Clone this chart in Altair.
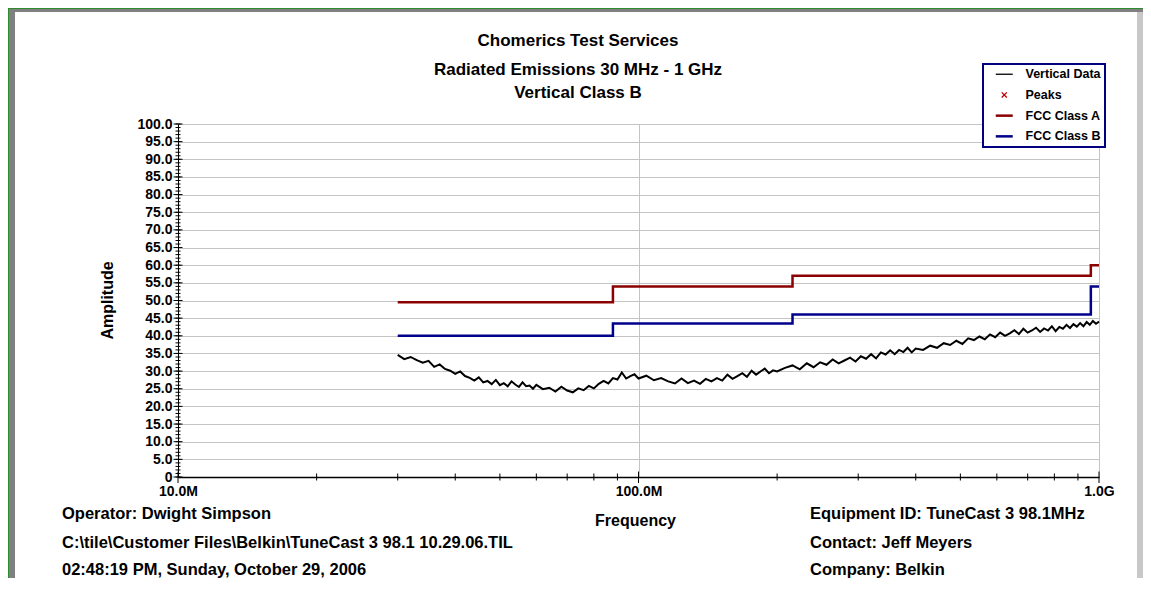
import altair as alt
import pandas as pd

# ---------------- data ----------------
FREQ_MHZ = [
    30, 31, 32, 33, 34, 35, 36, 37, 38, 39, 40, 41, 42, 43, 44, 45, 46, 47, 48, 49,
    50, 51, 52, 53, 54, 55, 56, 57, 58, 59, 60,
    62, 64, 66, 68, 70, 72, 74, 76, 78, 80, 82, 84, 86, 88, 90, 92, 94, 96, 98, 100,
    104, 108, 112, 116, 120, 124, 128, 132, 136, 140, 144, 148, 152, 156, 160, 164,
    168, 172, 176, 180, 184, 188, 192, 196, 200,
    208, 216, 224, 232, 240, 248, 256, 264, 272, 280, 288, 296, 304, 312, 320, 328,
    336, 344, 352, 360, 368, 376, 384, 392, 400,
    415, 430, 445, 460, 475, 490, 505, 520, 535, 550, 565, 580, 595, 610, 625, 640,
    655, 670, 685, 700, 715, 730, 745, 760, 775, 790, 805, 820, 835, 850, 865, 880,
    895, 910, 925, 940, 955, 970, 985, 1000,
]
VERTICAL_DATA = [
    34.6, 33.4, 34.0, 33.1, 32.4, 32.9, 31.2, 31.9, 30.6, 30.1, 29.2, 29.9, 28.6, 28.1,
    27.3, 28.2, 26.8, 27.2, 26.3, 27.5, 26.0, 26.6, 25.7, 27.1, 26.2, 25.5, 26.8, 25.7,
    25.9, 25.0, 26.1,
    24.9, 25.3, 24.2, 25.6, 24.5, 24.0, 25.1, 24.6, 25.8, 25.1, 26.4, 27.2, 26.5, 28.0,
    27.6, 29.6, 27.9, 28.6, 29.1, 27.9,
    28.7, 27.4, 28.0, 27.1, 26.5, 27.9, 26.6, 27.3, 26.4, 27.8, 27.1, 28.0, 27.3, 29.0,
    27.8, 28.6, 29.4, 28.4, 30.1, 29.0, 29.9, 30.7, 29.4, 30.2, 29.9,
    30.9, 31.6, 30.5, 32.2, 31.1, 32.5, 31.8, 33.3, 32.2, 33.0, 33.8, 32.7, 34.2, 33.5,
    34.8, 33.6, 35.3, 34.7, 35.9, 34.8, 36.0, 35.4, 36.6, 35.3, 36.4,
    36.0, 37.2, 36.6, 37.9, 37.4, 38.6, 37.7, 39.3, 38.8, 39.8, 39.0, 40.4, 39.6, 40.9,
    40.0, 40.7, 41.6, 40.5, 42.0, 40.9, 41.5, 42.3, 41.1, 42.1, 41.5, 42.7, 41.3, 42.5,
    42.0, 43.1, 42.2, 43.3, 42.6, 43.6, 42.7, 43.9, 43.1, 44.2, 43.4, 44.0,
]
CLASS_A_F = [30, 88, 216, 960, 1000]
CLASS_A_DB = [49.5, 54.0, 57.0, 60.0, 60.0]
CLASS_B_F = [30, 88, 216, 960, 1000]
CLASS_B_DB = [40.0, 43.5, 46.0, 54.0, 54.0]

SERIES = ["Vertical Data", "Peaks", "FCC Class A", "FCC Class B"]
SERIES_COLORS = ["#000000", "#c00000", "#8b0000", "#00008b"]

X_MAJOR = [10, 100, 1000]
X_MINOR = [20, 30, 40, 50, 60, 70, 80, 90, 200, 300, 400, 500, 600, 700, 800, 900]
Y_MAJOR = [0, 5, 10, 15, 20, 25, 30, 35, 40, 45, 50, 55, 60, 65, 70, 75, 80, 85, 90, 95, 100]
Y_MINOR = list(range(0, 101))

TITLE_LINES = ["Chomerics Test Services", "Radiated Emissions 30 MHz - 1 GHz", "Vertical Class B"]
FOOTER_LEFT = [
    "Operator: Dwight Simpson",
    "C:\\tile\\Customer Files\\Belkin\\TuneCast 3 98.1 10.29.06.TIL",
    "02:48:19 PM, Sunday, October 29, 2006",
]
FOOTER_RIGHT = [
    "Equipment ID: TuneCast 3 98.1MHz",
    "Contact: Jeff Meyers",
    "Company: Belkin",
]

FONT = "Liberation Sans"
W, H = 921, 353

trace_df = pd.DataFrame({"freq": FREQ_MHZ, "amp": VERTICAL_DATA, "series": "Vertical Data"})
limits_df = pd.concat([
    pd.DataFrame({"freq": CLASS_A_F, "amp": CLASS_A_DB, "series": "FCC Class A"}),
    pd.DataFrame({"freq": CLASS_B_F, "amp": CLASS_B_DB, "series": "FCC Class B"}),
], ignore_index=True)

xscale = alt.Scale(type="log", domain=[10, 1000], nice=False)
yscale = alt.Scale(domain=[0, 100], nice=False, zero=False)

legend = alt.Legend(
    orient="none", legendX=805, legendY=-60, title=None, direction="vertical",
    fillColor="white", strokeColor="#000080", padding=4,
    symbolType={"expr": "datum.value === 'Peaks' ? 'M-0.3,-0.3L0.3,0.3M-0.3,0.3L0.3,-0.3' : 'stroke'"},
    symbolSize=289,
    symbolStrokeWidth={"expr": "datum.value === 'FCC Class A' || datum.value === 'FCC Class B' ? 2.5 : 1.3"},
    symbolOffset=11, labelOffset=15, rowPadding=7.7,
    labelFont=FONT, labelFontSize=12.5, labelFontWeight="bold", labelColor="black", labelLimit=300,
)
color = alt.Color("series:N", scale=alt.Scale(domain=SERIES, range=SERIES_COLORS), legend=legend)

x_axis = alt.Axis(
    values=X_MAJOR, labelExpr="datum.value >= 1000 ? '1.0G' : format(datum.value, '.1f') + 'M'",
    ticks=False, grid=True, gridColor="#c4c4c4", gridWidth=1,
    domainColor="black", domainWidth=1.5, labelFlush=False,
    labelFont=FONT, labelFontSize=14, labelFontWeight="bold", labelColor="black", labelPadding=7,
    title="Frequency", titleFont=FONT, titleFontSize=16, titleFontWeight="bold", titleColor="black",
    titleX=457, titleY=43, titleBaseline="middle", titleAlign="center",
)
y_axis = alt.Axis(
    values=Y_MAJOR, labelExpr="datum.value == 0 ? '0' : format(datum.value, '.1f')",
    ticks=False, grid=True, gridColor="#c4c4c4", gridWidth=1,
    domainColor="black", domainWidth=1, labelFlush=False,
    labelFont=FONT, labelFontSize=14, labelFontWeight="bold", labelColor="black", labelPadding=6,
    title="Amplitude", titleFont=FONT, titleFontSize=16, titleFontWeight="bold", titleColor="black",
    titleX=-71, titleY=176, titleAngle=270, titleBaseline="middle", titleAlign="center",
)

one = pd.DataFrame({"k": [0]})


def rect(x1, x2, y1, y2, fill):
    return alt.Chart(one).mark_rect(color=fill).encode(
        x=alt.value(x1), x2=alt.value(x2), y=alt.value(y1), y2=alt.value(y2))


def label(text, x, y, size, align):
    return alt.Chart(one).mark_text(
        text=text, font=FONT, fontSize=size, fontWeight="bold", color="black",
        align=align, baseline="middle").encode(x=alt.value(x), y=alt.value(y))


frame = [
    rect(-170, 965, -116, -112, "#808080"),
    rect(-170, -163, -116, 454, "#808080"),
    rect(-170, 965, -116, -115, "#2e8b2e"),
    rect(-170, -169, -116, 454, "#2e8b2e"),
    rect(959, 965, -112, 454, "#c8c8c8"),
]

trace = alt.Chart(trace_df).mark_line(strokeWidth=2).encode(
    x=alt.X("freq:Q", scale=xscale, axis=x_axis),
    y=alt.Y("amp:Q", scale=yscale, axis=y_axis),
    color=color,
)
limits = alt.Chart(limits_df).mark_line(strokeWidth=2.5, interpolate="step-after").encode(
    x=alt.X("freq:Q", scale=xscale, axis=x_axis),
    y=alt.Y("amp:Q", scale=yscale, axis=y_axis),
    color=color,
    detail="series:N",
)

x_minor = alt.Chart(pd.DataFrame({"f": X_MINOR})).mark_rule(color="black", strokeWidth=1).encode(
    x=alt.X("f:Q", scale=xscale, axis=x_axis), y=alt.value(H - 3.5), y2=alt.value(H + 3.5))
x_major = alt.Chart(pd.DataFrame({"f": X_MAJOR})).mark_rule(color="black", strokeWidth=1).encode(
    x=alt.X("f:Q", scale=xscale, axis=x_axis), y=alt.value(H - 5.5), y2=alt.value(H + 6))
y_minor = alt.Chart(pd.DataFrame({"v": Y_MINOR})).mark_rule(color="black", strokeWidth=1).encode(
    y=alt.Y("v:Q", scale=yscale, axis=y_axis), x=alt.value(-2.5), x2=alt.value(2.5))
y_major = alt.Chart(pd.DataFrame({"v": Y_MAJOR})).mark_rule(color="black", strokeWidth=1).encode(
    y=alt.Y("v:Q", scale=yscale, axis=y_axis), x=alt.value(-4.5), x2=alt.value(4.5))

texts = [
    label(TITLE_LINES[0], 400, -83, 17, "center"),
    label(TITLE_LINES[1], 400, -54, 17, "center"),
    label(TITLE_LINES[2], 400, -31, 17, "center"),
]
FOOT_Y = [390, 419, 446]
for i, t in enumerate(FOOTER_LEFT):
    texts.append(label(t, -116, FOOT_Y[i], 16.5, "left"))
for i, t in enumerate(FOOTER_RIGHT):
    texts.append(label(t, 632, FOOT_Y[i], 16.5, "left"))

chart = alt.layer(
    *frame, trace, limits, x_minor, x_major, y_minor, y_major, *texts
).properties(
    width=W, height=H,
    padding={"left": 170, "top": 116, "right": 44, "bottom": 101},
    autosize=alt.AutoSizeParams(type="none"),
    background="white",
).configure_view(strokeWidth=0).configure_legend(strokeWidth=2)

chart.save("out.html", embed_options={"renderer": "svg", "actions": False})
